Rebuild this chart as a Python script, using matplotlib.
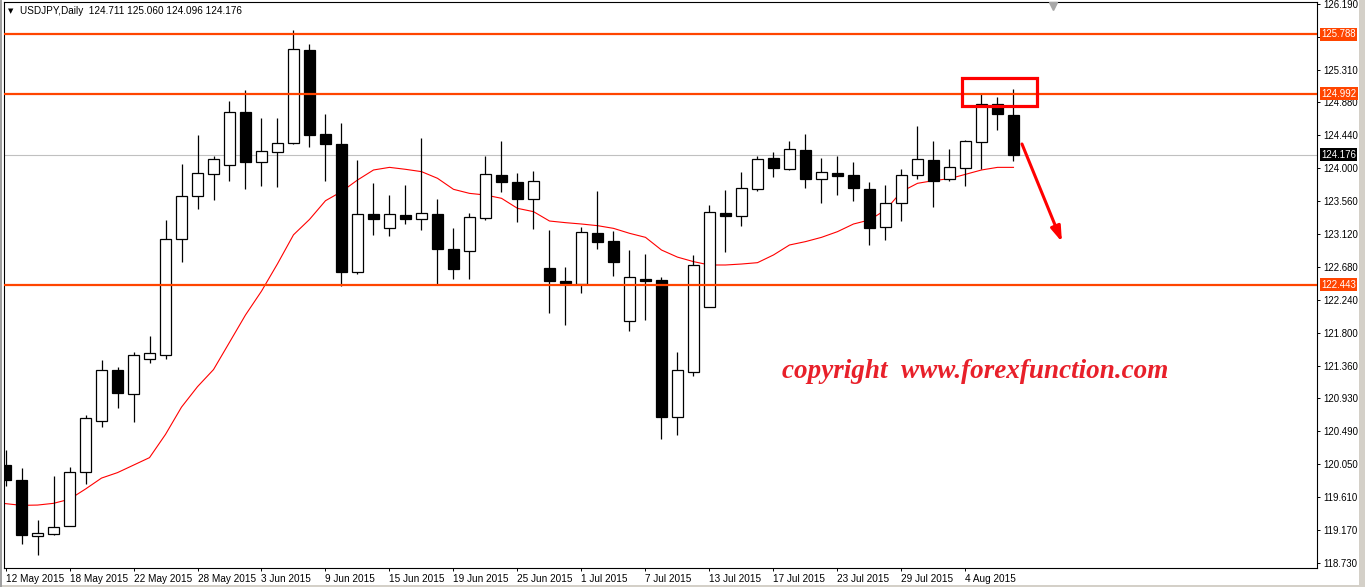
import matplotlib
matplotlib.use('Agg')
import matplotlib.pyplot as plt
import matplotlib.transforms as mtransforms
from matplotlib.patches import Rectangle
import numpy as np
import pandas as pd

plt.rcParams['font.family'] = ['Liberation Sans', 'DejaVu Sans']

# --- data (USDJPY daily, 12 May - 7 Aug 2015) ---
symbol = 'USDJPY,Daily'
dates = pd.bdate_range('2015-05-12', '2015-08-07')

opens = [120.036, 119.831, 119.094, 119.112, 119.230, 119.941, 120.628, 121.302,
         120.983, 121.448, 121.511, 123.051, 123.624, 123.916, 124.043, 124.744,
         124.080, 124.212, 124.330, 125.578, 124.453, 124.316, 122.618, 123.383,
         123.196, 123.374, 123.316, 123.383, 122.916, 122.898, 123.330, 123.904,
         123.810, 123.583, 122.663, 122.494, 122.449, 123.130, 123.023, 121.955,
         122.520, 122.507, 120.674, 121.283, 122.142, 123.397, 123.357, 123.717,
         124.131, 123.993, 124.237, 123.850, 123.930, 123.904, 123.721, 123.210,
         123.530, 123.904, 124.104, 123.850, 123.997, 124.344, 124.851, 124.711]
highs = [120.241, 119.991, 119.308, 119.891, 120.013, 120.706, 121.439, 121.348,
         121.548, 121.753, 123.301, 124.057, 124.444, 124.157, 124.899, 125.045,
         124.671, 124.671, 125.842, 125.650, 124.717, 124.600, 124.108, 123.797,
         123.641, 123.775, 124.402, 123.588, 123.201, 123.397, 124.162, 124.362,
         123.930, 123.962, 123.174, 122.680, 123.214, 123.695, 123.161, 122.907,
         122.854, 122.551, 121.550, 122.840, 123.507, 123.708, 123.948, 124.162,
         124.215, 124.362, 124.455, 124.131, 124.162, 124.082, 123.815, 123.775,
         123.988, 124.562, 124.362, 124.255, 124.375, 125.007, 124.954, 125.060]
lows = [119.754, 118.989, 118.843, 119.100, 119.217, 119.786, 120.551, 120.801,
        120.605, 121.402, 121.457, 122.745, 123.460, 123.579, 123.834, 123.724,
        123.765, 123.752, 124.320, 124.280, 123.834, 122.430, 122.587, 123.107,
        123.098, 123.254, 123.174, 122.440, 122.525, 122.525, 123.308, 123.686,
        123.285, 123.192, 122.071, 121.911, 122.329, 122.925, 122.565, 121.831,
        121.977, 120.380, 120.434, 121.230, 122.140, 122.885, 123.232, 123.699,
        123.886, 123.975, 123.739, 123.539, 123.641, 123.566, 122.978, 123.045,
        123.299, 123.850, 123.486, 123.833, 123.766, 123.988, 124.509, 124.096]
closes = [119.831, 119.103, 119.126, 119.208, 119.941, 120.660, 121.302, 120.992,
          121.502, 121.530, 123.051, 123.624, 123.929, 124.116, 124.744, 124.075,
          124.225, 124.330, 125.587, 124.448, 124.316, 122.620, 123.383, 123.325,
          123.383, 123.325, 123.397, 122.925, 122.658, 123.343, 123.917, 123.819,
          123.592, 123.824, 122.498, 122.462, 123.143, 123.018, 122.752, 122.542,
          122.498, 120.674, 121.306, 122.703, 123.410, 123.365, 123.730, 124.117,
          124.006, 124.251, 123.859, 123.944, 123.899, 123.739, 123.205, 123.530,
          123.904, 124.117, 123.833, 124.010, 124.357, 124.851, 124.718, 124.176]
# moving average line as drawn on the chart
ma = [119.522, 119.499, 119.503, 119.526, 119.581, 119.717, 119.863, 119.936,
      120.036, 120.136, 120.446, 120.810, 121.083, 121.311, 121.675, 122.040,
      122.358, 122.723, 123.110, 123.315, 123.565, 123.686, 123.841, 123.975,
      124.010, 123.984, 123.953, 123.864, 123.717, 123.663, 123.641, 123.597,
      123.463, 123.419, 123.294, 123.272, 123.254, 123.232, 123.196, 123.130,
      123.076, 122.907, 122.812, 122.752, 122.707, 122.707, 122.720, 122.738,
      122.841, 122.974, 123.019, 123.076, 123.152, 123.254, 123.308, 123.441,
      123.686, 123.797, 123.833, 123.859, 123.917, 123.975, 124.010, 124.010]

levels = [125.788, 124.992, 122.443]
bid = 124.176
yticks = [126.190, 125.750, 125.310, 124.880, 124.440, 124.000, 123.560, 123.120,
          122.680, 122.240, 121.800, 121.360, 120.930, 120.490, 120.050, 119.610,
          119.170, 118.730]
hidden_ticks = [125.750]  # label sits under the 125.788 level tag

# annotations (box round the last tops, arrow pointing down)
box_x = (59.78, 64.47)
box_y = (124.829, 125.202)
arrow_from = (63.53, 124.322)
arrow_to = (66.03, 123.014)
watermark = 'copyright  www.forexfunction.com'

ORANGE = '#FF4500'
W, H = 1365, 587
FS = 6.9

fig = plt.figure(figsize=(W / 100, H / 100), dpi=100)
fig.patch.set_facecolor('white')
ax = fig.add_axes([4 / W, (H - 568) / H, (1317 - 4) / W, (568 - 2) / H])

x = np.arange(len(opens))
o = np.array(opens); h = np.array(highs); l = np.array(lows); c = np.array(closes)
up = c >= o

# MA behind the candles
ax.plot(x, ma, color='red', lw=0.8, zorder=1.5)

ax.vlines(x, l, h, color='black', lw=0.9, zorder=2)
body_lo = np.minimum(o, c)
body_h = np.maximum(np.abs(c - o), 0.02)
ax.bar(x, body_h, bottom=body_lo, width=0.64,
       color=np.where(up, 'white', 'black'), edgecolor='black', lw=0.9, zorder=3)

# horizontal levels + bid line
for lv in levels:
    ax.axhline(lv, color=ORANGE, lw=1.6, zorder=4)
ax.axhline(bid, color='#C0C0C0', lw=0.8, zorder=1)

ax.set_xlim(-0.094, 81.97)
ax.set_ylim(118.663, 126.217)

# axes styling like the terminal
for sp in ax.spines.values():
    sp.set_linewidth(0.8)
    sp.set_color('black')
ax.yaxis.tick_right()
ax.set_yticks(yticks)
ax.set_yticklabels(['' if v in hidden_ticks else f'{v:.3f}' for v in yticks])
ax.tick_params(axis='y', direction='out', length=2.5, width=0.7, pad=2,
               labelsize=FS, colors='black')
ax.set_xticks(x[::4])
ax.set_xticklabels([f'{d.day} {d.strftime("%b %Y")}' for d in dates[::4]])
ax.tick_params(axis='x', direction='out', length=2.5, width=0.7, pad=1.5,
               labelsize=7.2)
for lbl in ax.get_xticklabels():
    lbl.set_ha('left')

# price labels on the right axis
trans = mtransforms.blended_transform_factory(ax.transAxes, ax.transData)
for lv in levels:
    ax.text(1 + 4 / 1313, lv, f'{lv:.3f}', transform=trans, color='white',
            fontsize=FS, va='center', ha='left', clip_on=False, zorder=10,
            bbox=dict(boxstyle='square,pad=0.15', fc=ORANGE, ec='none'))
ax.text(1 + 4 / 1313, bid, f'{bid:.3f}', transform=trans, color='white',
        fontsize=FS, va='center', ha='left', clip_on=False, zorder=10,
        bbox=dict(boxstyle='square,pad=0.15', fc='black', ec='none'))

# red box and arrow
ax.add_patch(Rectangle((box_x[0], box_y[0]), box_x[1] - box_x[0], box_y[1] - box_y[0],
                       fill=False, ec='red', lw=2.3, zorder=6))
ax.annotate('', xy=arrow_to, xytext=arrow_from, zorder=6,
            arrowprops=dict(arrowstyle='-|>,head_length=0.9,head_width=0.3',
                            color='red', lw=2.2, shrinkA=0, shrinkB=0))

# chart shift marker
ax.plot([65.47], [1 - 4 / 566], marker='v', color='#A8A8A8', ms=6,
        transform=mtransforms.blended_transform_factory(ax.transData, ax.transAxes),
        clip_on=False, zorder=7)

# header text
fig.text(8 / W, 1 - 11 / H, '\u25bc', family='DejaVu Sans', fontsize=5, va='center')
fig.text(20 / W, 1 - 11 / H,
         f'{symbol}  {opens[-1]:.3f} {highs[-1]:.3f} {lows[-1]:.3f} {closes[-1]:.3f}',
         fontsize=7.2, va='center')

fig.text(782 / W, 1 - 378 / H, watermark, family='Liberation Serif', weight='bold',
         style='italic', fontsize=19.5, color='#E8202A', va='baseline')

# window frame bits
fig.patches.append(Rectangle((1359 / W, 0), 6 / W, 1, transform=fig.transFigure,
                             fc='#D4D0C8', ec='none', zorder=0))
fig.patches.append(Rectangle((0, 0), 1, 2 / H, transform=fig.transFigure,
                             fc='#D4D0C8', ec='none', zorder=0))
fig.patches.append(Rectangle((0, 0), 2 / W, 1, transform=fig.transFigure,
                             fc='#A0A0A0', ec='none', zorder=0))

fig.savefig('out.png', dpi=100)
